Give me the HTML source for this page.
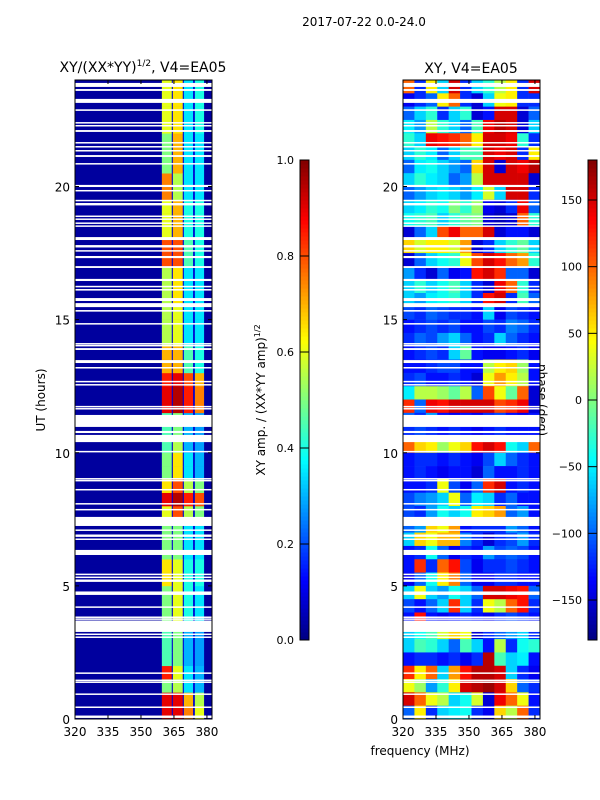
<!DOCTYPE html>
<html><head><meta charset="utf-8">
<style>
html,body{margin:0;padding:0;background:#fff;}
svg{display:block;font-family:"DejaVu Sans","Liberation Sans",sans-serif;}
</style></head>
<body>
<svg id="fig" width="600" height="800" viewBox="0 0 600 800">
<text x="364" y="26" font-size="12" text-anchor="middle">2017-07-22 0.0-24.0</text>
<text x="143" y="72" font-size="14" text-anchor="middle">XY/(XX*YY)<tspan font-size="9" dy="-6">1/2</tspan><tspan dy="6">, V4=EA05</tspan></text>
<text x="471" y="73" font-size="14" text-anchor="middle">XY, V4=EA05</text>
<text transform="translate(45,400) rotate(-90)" font-size="12" text-anchor="middle">UT (hours)</text>
<text transform="translate(265,400) rotate(-90)" font-size="12" text-anchor="middle">XY amp. / (XX*YY amp)<tspan font-size="8" dy="-5">1/2</tspan></text>
<text transform="translate(538,400) rotate(90)" font-size="12" text-anchor="middle">phase (deg)</text>
<text x="420" y="755" font-size="12" text-anchor="middle">frequency (MHz)</text>
<g id="left"></g>
<g id="right"></g>
<g id="cb"></g>
</svg>
<script>
// ---- data ----
const freqMin = 320, freqMax = 382.3, hourMin = 0, hourMax = 24;
const freqTicks = [320, 335, 350, 365, 380];
const hourTicks = [0, 5, 10, 15, 20];
const ampTicks = [0.0, 0.2, 0.4, 0.6, 0.8, 1.0];
const phaseTicks = [-150, -100, -50, 0, 50, 100, 150];
// amplitude strips (MHz edges) and per-0.5h values, bottom (0h) to top (24h)
const stripLo = [359.5, 364.5, 369.5, 374.5];
const stripHi = [364.0, 369.0, 373.7, 378.7];
const ampBackground = 0.03;
const ampGap = 0.08;
const ampS1 = [0.9,0.9,0.5,0.85,0.45,0.45,0.45,0.5,0.5,0.5,0.65,0.65,0.5,0.5,0.5,0.6,0.9,0.65,0.5,0.5,0.45,0.45,0.45,0.9,0.9,0.85,0.7,0.7,0.55,0.55,0.55,0.55,0.55,0.55,0.8,0.8,0.6,0.6,0.6,0.75,0.75,0.5,0.5,0.5,0.6,0.6,0.6,0.6];
const ampS2 = [0.9,0.9,0.55,0.6,0.5,0.5,0.5,0.6,0.6,0.6,0.6,0.6,0.5,0.5,0.5,0.8,0.95,0.8,0.65,0.65,0.55,0.5,0.5,0.95,0.95,0.9,0.7,0.7,0.6,0.6,0.6,0.65,0.65,0.65,0.8,0.8,0.7,0.7,0.7,0.55,0.55,0.7,0.7,0.7,0.65,0.65,0.65,0.65];
const ampS3 = [0.75,0.7,0.35,0.35,0.3,0.3,0.3,0.4,0.4,0.4,0.4,0.4,0.35,0.35,0.35,0.55,0.85,0.55,0.35,0.35,0.3,0.3,0.3,0.85,0.85,0.8,0.45,0.45,0.35,0.35,0.35,0.35,0.35,0.35,0.45,0.45,0.4,0.4,0.4,0.35,0.35,0.35,0.35,0.35,0.35,0.35,0.35,0.35];
const ampS4 = [0.6,0.55,0.3,0.3,0.28,0.28,0.28,0.35,0.35,0.35,0.4,0.4,0.35,0.35,0.35,0.5,0.8,0.5,0.3,0.3,0.28,0.28,0.28,0.75,0.75,0.7,0.4,0.4,0.35,0.35,0.35,0.35,0.35,0.35,0.4,0.4,0.4,0.4,0.4,0.35,0.35,0.35,0.35,0.35,0.4,0.4,0.4,0.4];
// flagged (blank) time ranges, hours
const flagLo = [23.74,23.59,23.14,22.84,22.38,22.27,22.05,21.63,21.48,21.33,21.11,20.85,19.98,19.83,19.46,19.29,18.87,18.76,18.61,18.50,17.99,17.71,17.57,17.31,16.94,16.45,16.23,16.09,15.70,15.47,15.30,14.82,14.07,14.00,13.86,13.37,13.18,12.66,12.54,11.72,11.64,10.97,10.74,10.40,10.03,9.01,8.94,8.60,8.07,7.85,7.25,7.08,6.84,6.74,6.16,5.42,5.31,5.15,4.66,4.19,3.81,3.74,3.27,3.17,3.06,1.71,1.44,1.37,0.92,0.43,0.04];
const flagHi = [23.89,23.66,23.29,22.90,22.42,22.31,22.12,21.67,21.52,21.37,21.18,20.88,20.06,19.87,19.50,19.38,18.91,18.80,18.65,18.54,18.10,17.80,17.61,17.39,17.01,16.53,16.27,16.15,15.81,15.62,15.36,14.87,14.12,14.05,13.93,13.48,13.22,12.70,12.58,11.76,11.68,11.42,10.82,10.67,10.07,9.05,8.98,8.64,8.11,7.89,7.59,7.12,6.93,6.78,6.35,5.46,5.35,5.24,4.79,4.23,3.85,3.78,3.70,3.21,3.10,1.75,1.48,1.41,0.96,0.47,0.13];
// phase (deg), rows listed top (23.5-24h) to bottom (0-0.5h), 12 frequency columns
const phaseRows = [
[100,-120,50,-60,150,-120,-60,-30,20,50,-120,150],
[-140,-120,-100,50,100,-120,-150,-60,40,50,-120,-120],
[-100,-60,-30,-120,-60,-30,-150,-130,150,150,-150,-100],
[-50,-80,20,-30,-60,-100,-20,140,160,150,-150,-60],
[-30,-60,140,130,120,100,50,150,150,140,-30,-120],
[-60,-30,-50,-100,-60,-20,-20,150,140,150,-120,50],
[-100,-50,-40,-60,-80,-100,60,150,-150,150,140,160],
[-60,-30,-50,-60,-100,-80,20,150,150,150,150,-150],
[-100,-80,-60,-50,-60,-80,-50,30,-60,150,150,-120],
[-60,-50,-30,-40,0,-30,10,-140,-150,-120,140,-100],
[-40,-30,-20,-60,-30,-10,0,-150,-160,-150,100,-30],
[-150,-100,-60,110,140,100,100,150,-150,-130,-130,-150],
[60,30,50,50,30,80,-150,-120,-60,-30,-10,-60],
[-150,-100,-60,-40,-30,40,110,150,130,100,80,-30],
[-80,-120,-150,-100,-140,-130,130,150,120,-100,-100,-150],
[-60,-30,-60,-40,-20,-60,-120,-150,140,100,-30,-120],
[-60,-80,-50,-40,-30,-60,-120,130,150,-120,-20,-100],
[-110,-120,-100,-110,-120,-120,-130,-60,-140,-110,-120,-130],
[-130,-120,-110,-120,-110,-130,-130,-110,-120,-90,-100,-120],
[-120,-100,-110,-80,-60,-100,-130,-120,-60,-100,-120,-130],
[-130,-120,-110,-120,-60,-10,-130,-140,-140,-130,-120,-140],
[-130,-130,-120,-110,-110,-130,-130,20,50,60,10,-130],
[-120,-110,-130,-130,-120,-130,-150,40,80,50,20,-130],
[-50,20,20,10,-10,20,-100,110,40,-10,100,-150],
[120,-100,140,130,150,150,150,150,110,120,140,-150],
[-100,-120,-80,-130,-140,-130,-140,-120,-110,-130,-140,-130],
[-120,-110,-120,-130,-120,-130,-140,-130,-120,-130,-130,-130],
[100,60,50,10,40,60,130,150,130,-40,-60,100],
[-130,-120,-120,-130,-120,-130,-140,-110,-60,-100,-120,-130],
[-130,-120,-130,-140,-130,-130,-150,-100,-130,-130,-120,-130],
[-130,-130,-120,40,-110,-140,-100,120,150,-130,-120,-130],
[-110,-90,-80,-60,40,-100,-50,-60,-120,-100,-130,-130],
[-110,-120,-80,-40,-60,-40,50,60,80,-100,-80,-130],
[-100,-80,60,40,80,-130,-120,-120,-120,-80,-100,-130],
[-60,60,40,70,70,-90,-120,-150,-120,-110,-80,-120],
[-130,-120,-40,-100,-140,-120,-130,-80,-110,-100,-110,-130],
[-130,120,-120,100,130,-110,-140,-120,-120,-110,-120,-130],
[-140,-100,-40,50,90,-100,-140,-140,-120,-120,-130,-130],
[-60,40,-60,-80,-40,-60,-100,150,150,140,130,-100],
[-110,-130,-100,-60,120,-60,-120,40,20,100,130,-120],
[-130,130,-130,-140,-130,-120,-130,-140,-120,-110,-120,-130],
[-60,-40,-20,30,60,40,-150,-120,-100,-80,-60,-120],
[-60,-20,-30,-60,-100,-20,-60,-130,20,-120,-40,-30],
[-130,-120,-120,-130,-120,-140,-120,160,-20,-60,-50,-130],
[120,50,100,-60,80,130,160,160,150,-60,-120,-140],
[40,10,-80,-30,50,150,160,170,150,60,-100,-120],
[150,100,40,20,-60,-40,30,-150,140,100,40,-130],
[-100,50,-120,-60,-50,-40,-120,-140,60,20,100,-120]
];
// ---- rendering ----
const NS = "http://www.w3.org/2000/svg";
function mk(tag, attrs, parent){const e=document.createElementNS(NS,tag);for(const k in attrs)e.setAttribute(k,attrs[k]);parent.appendChild(e);return e;}
function jet(v){v=Math.max(0,Math.min(1,v));
 const r=Math.max(0,Math.min(1,Math.min(4*v-1.5,-4*v+4.5)));
 const g=Math.max(0,Math.min(1,Math.min(4*v-0.5,-4*v+3.5)));
 const b=Math.max(0,Math.min(1,Math.min(4*v+0.5,-4*v+2.5)));
 return `rgb(${Math.round(r*255)},${Math.round(g*255)},${Math.round(b*255)})`;}
const panelTop=80, panelBot=719;
function yOf(h){return panelBot-(h-hourMin)/(hourMax-hourMin)*(panelBot-panelTop);}
function makeX(x0,x1){return f=>x0+(f-freqMin)/(freqMax-freqMin)*(x1-x0);}
const xL=makeX(75,212), xR=makeX(403,540);
const gL=document.getElementById('left'), gR=document.getElementById('right'), gC=document.getElementById('cb');
const nRows=ampS1.length, dh=(hourMax-hourMin)/nRows;
const bg=mk('rect',{x:xL(freqMin),y:panelTop,width:xL(freqMax)-xL(freqMin),height:panelBot-panelTop,fill:jet(ampBackground)},gL);


const gapR=mk('rect',{x:xL(stripLo[0]),y:panelTop,width:xL(stripHi[3])-xL(stripLo[0]),height:panelBot-panelTop,fill:jet(ampGap)},gL);


const strips=[ampS1,ampS2,ampS3,ampS4];
strips.forEach((arr,s)=>{arr.forEach((v,i)=>{
 const h0=hourMin+i*dh;
 const r=mk('rect',{x:xL(stripLo[s]),y:yOf(h0+dh),width:xL(stripHi[s])-xL(stripLo[s]),height:yOf(h0)-yOf(h0+dh)+0.3,fill:jet(v)},gL);
 
 
});});
const nPR=phaseRows.length, nPC=phaseRows[0].length, pdh=(hourMax-hourMin)/nPR, pdf=(freqMax-freqMin)/nPC;
phaseRows.forEach((row,ri)=>{const hTop=hourMax-ri*pdh;row.forEach((p,ci)=>{
 const f0=freqMin+ci*pdf;
 const r=mk('rect',{x:xR(f0),y:yOf(hTop),width:xR(f0+pdf)-xR(f0)+0.3,height:yOf(hTop-pdh)-yOf(hTop)+0.3,fill:jet((p+180)/360)},gR);
 
 
});});
[[gL,xL],[gR,xR]].forEach(([g,xf])=>{flagLo.forEach((lo,i)=>{
 const r=mk('rect',{x:xf(freqMin),y:yOf(flagHi[i]),width:xf(freqMax)-xf(freqMin),height:Math.max(1.5,yOf(lo)-yOf(flagHi[i])),fill:'#fff'},g);
 
 
});});
function axes(g,xf,x0,x1,name){
 const fr=mk('rect',{x:x0,y:panelTop,width:x1-x0,height:panelBot-panelTop,fill:'none',stroke:'#000','stroke-width':1},g);
 
 
 freqTicks.forEach(t=>{const x=xf(t);
  mk('line',{x1:x,x2:x,y1:panelBot,y2:panelBot-4,stroke:'#000'},g);
  mk('line',{x1:x,x2:x,y1:panelTop,y2:panelTop+4,stroke:'#000'},g);
  const tx=mk('text',{x:x,y:panelBot+17,'font-size':12,'text-anchor':'middle'},g);tx.textContent=t;
  
  });
 hourTicks.forEach(t=>{const y=yOf(t);
  mk('line',{x1:x0,x2:x0+4,y1:y,y2:y,stroke:'#000'},g);
  mk('line',{x1:x1,x2:x1-4,y1:y,y2:y,stroke:'#000'},g);
  const tx=mk('text',{x:x0-5,y:y+5,'font-size':12,'text-anchor':'end'},g);tx.textContent=t;
  
  });
}
axes(gL,xL,75,212,'amp-panel');axes(gR,xR,403,540,'phase-panel');
function colorbar(x,min,max,ticks,name){
 const y0=640,y1=160,n=120;
 for(let i=0;i<n;i++){const v=(i+0.5)/n;
  mk('rect',{x:x,y:y0-(i+1)*(y0-y1)/n,width:9,height:(y0-y1)/n+0.5,fill:jet(v)},gC);}
 const fr=mk('rect',{x:x,y:y1,width:9,height:y0-y1,fill:'none',stroke:'#000'},gC);
 
 
 ticks.forEach(t=>{const y=y0-(t-min)/(max-min)*(y0-y1);
  mk('line',{x1:x,x2:x+9,y1:y,y2:y,stroke:'#000'},gC);
  const tx=mk('text',{x:x-6,y:y+4,'font-size':11,'text-anchor':'end'},gC);
  tx.textContent=(name==='amp-colorbar')?t.toFixed(1):(t<0?'\u2212'+Math.abs(t):String(t));
  
  });
}
colorbar(300,0,1,ampTicks,'amp-colorbar');
colorbar(588,-180,180,phaseTicks,'phase-colorbar');
</script>
</body></html>
